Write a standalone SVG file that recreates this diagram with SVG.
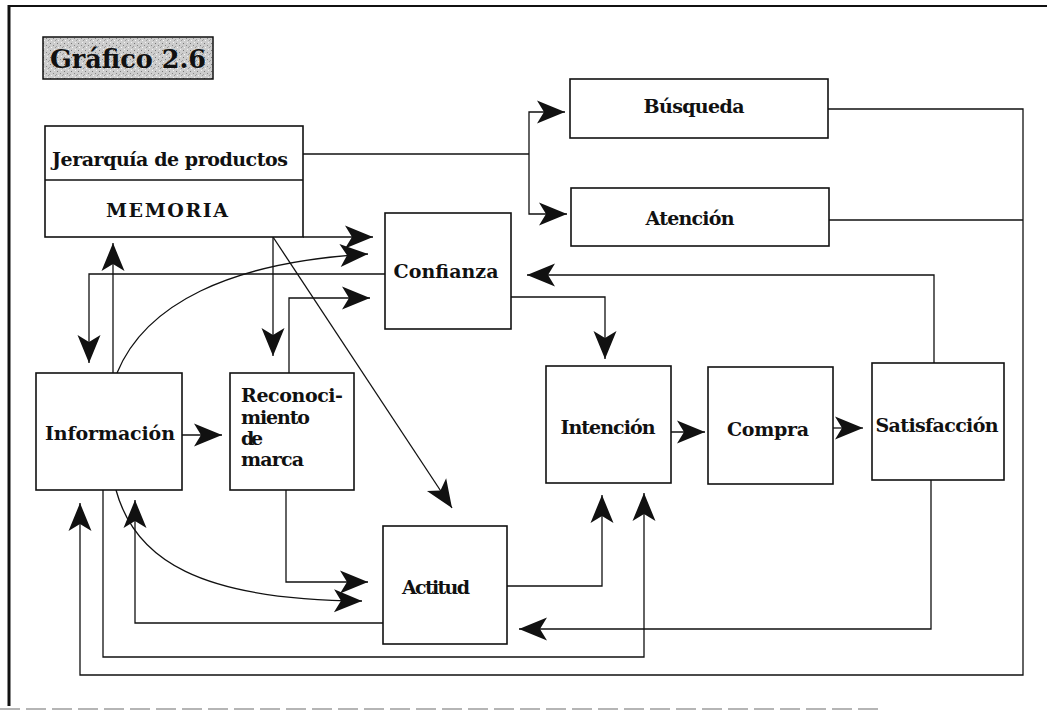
<svg xmlns="http://www.w3.org/2000/svg" width="1047" height="713" viewBox="0 0 1047 713">
  <defs>
    <!-- filled stealth arrowhead, tip at the path end -->
    <marker id="arrow" viewBox="-29 -13 31 26" refX="0" refY="0" markerWidth="31" markerHeight="26" markerUnits="userSpaceOnUse" orient="auto">
      <path d="M0,0 L-28,-11.5 L-21,0 L-28,11.5 Z" fill="#111"/>
    </marker>
    <!-- grey stipple used behind the chart title -->
    <pattern id="stipple" width="7" height="7" patternUnits="userSpaceOnUse">
      <rect width="7" height="7" fill="#cdcdcd"/>
      <rect x="1" y="1" width="1" height="1" fill="#777"/>
      <rect x="4" y="3" width="1" height="1" fill="#888"/>
      <rect x="2" y="5" width="1" height="1" fill="#f4f4f4"/>
      <rect x="5" y="0" width="1" height="1" fill="#efefef"/>
      <rect x="6" y="5" width="1" height="1" fill="#999"/>
      <rect x="0" y="4" width="1" height="1" fill="#a0a0a0"/>
    </pattern>
    <style>
      .box { fill: #fff; stroke: #111; stroke-width: 1.6; }
      .ln { fill: none; stroke: #111; stroke-width: 1.3; }
      .ar { marker-end: url(#arrow); }
      .lbl { font-family: "DejaVu Serif", "Liberation Serif", serif; font-weight: bold; font-size: 19px; fill: #111; }
      .mid { text-anchor: middle; }
      .ttl { font-size: 26px; }
    </style>
  </defs>

  <rect width="1047" height="713" fill="#fff"/>

  <!-- page frame -->
  <g id="frame">
    <line x1="9" y1="5" x2="9" y2="706" stroke="#111" stroke-width="3"/>
    <line x1="8" y1="6" x2="1047" y2="6" stroke="#111" stroke-width="2"/>
    <line x1="0" y1="709" x2="880" y2="709" stroke="#b5b5b5" stroke-width="2" stroke-dasharray="20 6"/>
  </g>

  <!-- connectors -->
  <g id="connectors">
    <!-- memory hierarchy to search / attention -->
    <path class="ln" d="M303,154 H529"/>
    <path class="ln ar" d="M529,154 V112 H565"/>
    <path class="ln ar" d="M529,154 V214 H567"/>
    <!-- search / attention feedback loop back to information -->
    <path class="ln ar" d="M828,109 H1023 V675 H80 V503"/>
    <path class="ln" d="M829,220 H1023"/>
    <!-- memory to confidence -->
    <path class="ln ar" d="M303,237 H373"/>
    <!-- information to confidence -->
    <path class="ln ar" d="M117,373 C145,305 228,262 368,254"/>
    <!-- confidence to information -->
    <path class="ln ar" d="M385,274 H89 V363"/>
    <!-- brand recognition to confidence -->
    <path class="ln ar" d="M289,373 V298 H370"/>
    <!-- memory to brand recognition -->
    <path class="ln ar" d="M273,237 V356"/>
    <!-- memory to attitude -->
    <path class="ln ar" d="M273,237 L452,508"/>
    <!-- information to memory -->
    <path class="ln ar" d="M113,373 V243"/>
    <!-- information to brand recognition -->
    <path class="ln ar" d="M182,435 H222"/>
    <!-- brand recognition to attitude -->
    <path class="ln ar" d="M286,490 V582 H368"/>
    <!-- information to attitude -->
    <path class="ln ar" d="M116,490 C135,560 200,600 362,601"/>
    <!-- attitude to information -->
    <path class="ln ar" d="M383,623 H135 V500"/>
    <!-- information to intention -->
    <path class="ln ar" d="M103,490 V657 H644 V493"/>
    <!-- attitude to intention -->
    <path class="ln ar" d="M507,586 H602 V495"/>
    <!-- confidence to intention -->
    <path class="ln ar" d="M511,297 H605 V359"/>
    <!-- intention to purchase -->
    <path class="ln ar" d="M671,432 H705"/>
    <!-- purchase to satisfaction -->
    <path class="ln ar" d="M833,428 H863"/>
    <!-- satisfaction to confidence -->
    <path class="ln ar" d="M934,363 V275 H527"/>
    <!-- satisfaction to attitude -->
    <path class="ln ar" d="M931,480 V629 H519"/>
  </g>

  <!-- nodes -->
  <g id="title">
    <rect x="43" y="37" width="170" height="42" fill="url(#stipple)" stroke="#111" stroke-width="1.5"/>
    <text class="lbl mid ttl" x="128" y="68" textLength="156" lengthAdjust="spacingAndGlyphs">Gráfico 2.6</text>
  </g>

  <g id="memoria">
    <rect class="box" x="45" y="126" width="258" height="111"/>
    <line x1="45" y1="180" x2="303" y2="180" stroke="#111" stroke-width="1.4"/>
    <text class="lbl mid" x="170" y="166" textLength="236">Jerarquía de productos</text>
    <text class="lbl mid" x="167" y="217" textLength="122">MEMORIA</text>
  </g>

  <g id="busqueda">
    <rect class="box" x="570" y="79" width="258" height="59"/>
    <text class="lbl mid" x="694" y="113" textLength="101">Búsqueda</text>
  </g>

  <g id="atencion">
    <rect class="box" x="571" y="188" width="258" height="58"/>
    <text class="lbl mid" x="690" y="225" textLength="89">Atención</text>
  </g>

  <g id="confianza">
    <rect class="box" x="385" y="213" width="126" height="116"/>
    <text class="lbl mid" x="446" y="278" textLength="105">Confianza</text>
  </g>

  <g id="informacion">
    <rect class="box" x="36" y="373" width="146" height="117"/>
    <text class="lbl mid" x="110" y="440" textLength="130">Información</text>
  </g>

  <g id="reconocimiento">
    <rect class="box" x="230" y="373" width="124" height="117"/>
    <text class="lbl">
      <tspan x="241" y="402" textLength="102">Reconoci-</tspan>
      <tspan x="241" y="424" textLength="69">miento</tspan>
      <tspan x="241" y="445" textLength="22">de</tspan>
      <tspan x="241" y="466" textLength="63">marca</tspan>
    </text>
  </g>

  <g id="intencion">
    <rect class="box" x="546" y="366" width="125" height="117"/>
    <text class="lbl mid" x="608" y="434" textLength="95">Intención</text>
  </g>

  <g id="compra">
    <rect class="box" x="708" y="367" width="125" height="117"/>
    <text class="lbl mid" x="768" y="436" textLength="82">Compra</text>
  </g>

  <g id="satisfaccion">
    <rect class="box" x="872" y="363" width="132" height="117"/>
    <text class="lbl mid" x="937" y="432" textLength="123">Satisfacción</text>
  </g>

  <g id="actitud">
    <rect class="box" x="383" y="526" width="124" height="118"/>
    <text class="lbl mid" x="436" y="594" textLength="68">Actitud</text>
  </g>
</svg>
